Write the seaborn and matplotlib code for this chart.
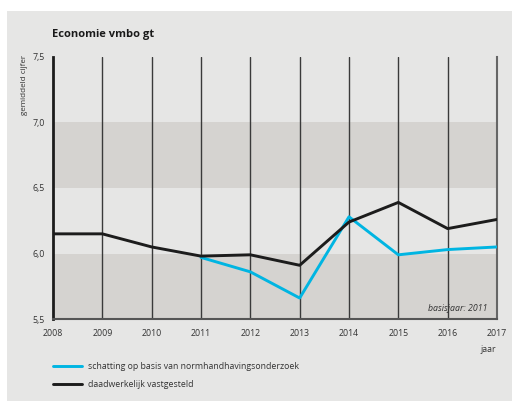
import seaborn as sns
import numpy as np
import pandas as pd
import matplotlib.pyplot as plt
from matplotlib.patches import Rectangle

sns.set_style("white")
plt.rcParams['font.family'] = ['Open Sans', 'DejaVu Sans']

years = [2008, 2009, 2010, 2011, 2012, 2013, 2014, 2015, 2016, 2017]
vastgesteld = [6.15, 6.15, 6.05, 5.98, 5.99, 5.91, 6.24, 6.39, 6.19, 6.26]
schatting_years = [2011, 2012, 2013, 2014, 2015, 2016, 2017]
schatting = [5.97, 5.86, 5.66, 6.28, 5.99, 6.03, 6.05]
yticks = [5.5, 6.0, 6.5, 7.0, 7.5]
ytick_labels = ["5,5", "6,0", "6,5", "7,0", "7,5"]

panel = "#e6e6e5"
band = "#d5d3d0"
cyan = "#00b5e2"
dark = "#1c1c1c"

fig = plt.figure(figsize=(5.12, 4.01), dpi=100)
fig.patch.set_facecolor("white")
fig.add_artist(Rectangle((7 / 512, 0), 1, 1 - 11 / 401, transform=fig.transFigure,
                         facecolor=panel, edgecolor="none", zorder=0))

ax = fig.add_axes([53 / 512, 82 / 401, 444 / 512, 262 / 401])
ax.set_facecolor(panel)
ax.axhspan(5.5, 6.0, color=band, zorder=0, lw=0)
ax.axhspan(6.5, 7.0, color=band, zorder=0, lw=0)

for yr in years[1:-1]:
    ax.axvline(yr, color="#3a3a3a", lw=1.0, zorder=1)

df_s = pd.DataFrame({"jaar": schatting_years, "cijfer": schatting})
df_v = pd.DataFrame({"jaar": years, "cijfer": vastgesteld})
sns.lineplot(data=df_s, x="jaar", y="cijfer", ax=ax, color=cyan, lw=2.1, zorder=3,
             label="schatting op basis van normhandhavingsonderzoek")
sns.lineplot(data=df_v, x="jaar", y="cijfer", ax=ax, color=dark, lw=2.1, zorder=4,
             label="daadwerkelijk vastgesteld")

ax.set_xlim(2008, 2017)
ax.set_ylim(5.5, 7.5)
ax.set_xticks(years)
ax.set_xticklabels([str(y) for y in years], fontsize=6.3, color="#333333")
ax.set_yticks(yticks)
ax.set_yticklabels(ytick_labels, fontsize=6.3, color="#333333")
ax.tick_params(axis="x", length=0, pad=7)
ax.tick_params(axis="y", length=0, pad=6)
ax.set_xlabel("")
ax.set_ylabel("")

ax.spines["top"].set_visible(False)
ax.spines["left"].set_color(dark)
ax.spines["left"].set_linewidth(2.0)
ax.spines["bottom"].set_color("#555555")
ax.spines["bottom"].set_linewidth(1.5)
ax.spines["right"].set_color("#666666")
ax.spines["right"].set_linewidth(1.5)

fig.text(52 / 512, 1 - 34 / 401, "Economie vmbo gt", fontsize=8, fontweight="bold",
         color="#1a1a1a", va="center", ha="left")
fig.text(24 / 512, 1 - 85 / 401, "gemiddeld cijfer", fontsize=5.8, rotation=90,
         color="#333333", va="center", ha="center")
fig.text(488 / 512, 1 - 349 / 401, "jaar", fontsize=6.3, color="#333333",
         va="center", ha="center")
ax.text(2016.8, 5.58, "basisjaar: 2011", fontsize=6.3, style="italic",
        color="#333333", ha="right", va="center")

ax.legend(loc="upper left", bbox_to_anchor=(45 / 512, 1 - 354 / 401),
          bbox_transform=fig.transFigure, frameon=False, fontsize=6.3,
          handlelength=3.3, handletextpad=0.7, labelspacing=1.0,
          labelcolor="#333333")

fig.savefig("out.png", dpi=100, facecolor=fig.get_facecolor())
